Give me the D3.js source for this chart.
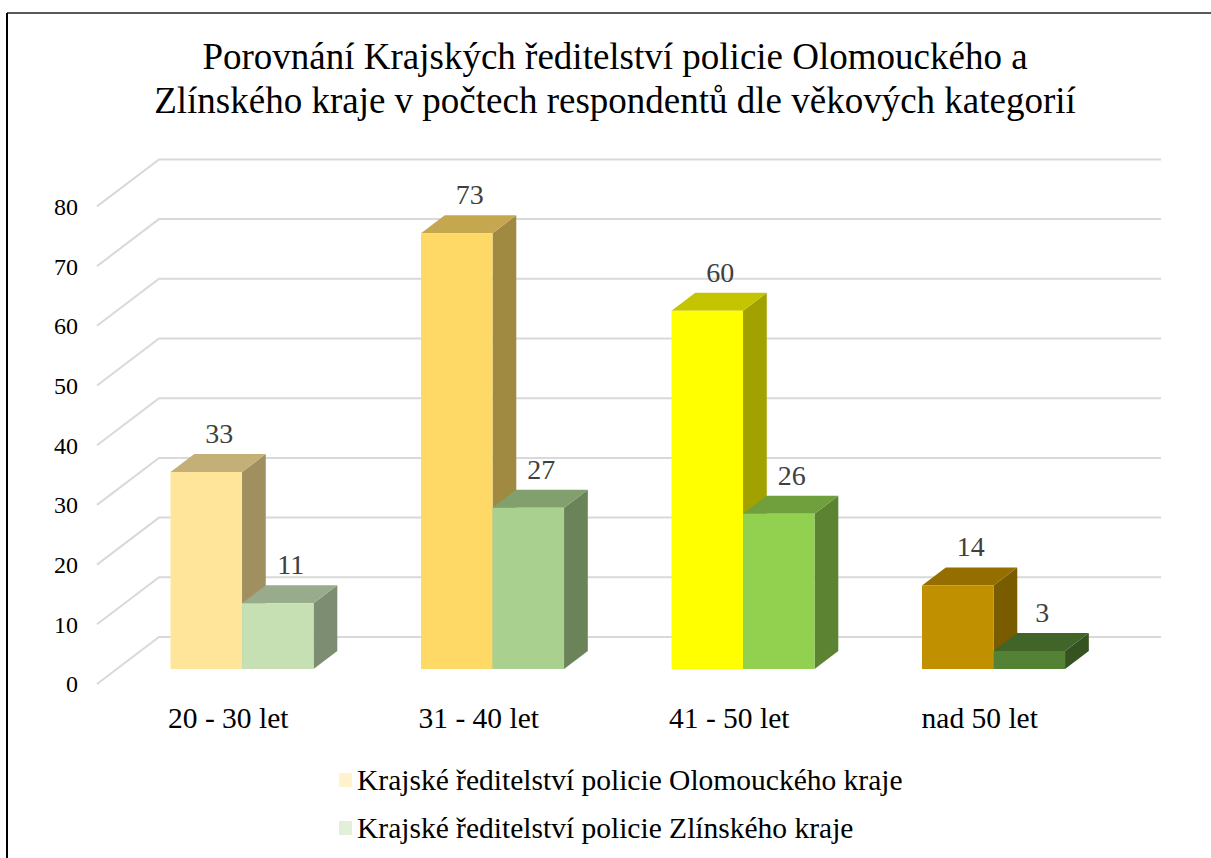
<!DOCTYPE html>
<html><head><meta charset="utf-8">
<script src="https://cdn.jsdelivr.net/npm/d3@7"></script>
<style>html,body{margin:0;padding:0;background:#fff;}svg{display:block;}</style>
</head><body>
<script>
const categories = ["20 - 30 let", "31 - 40 let", "41 - 50 let", "nad 50 let"];
const seriesNames = ["Krajské ředitelství policie Olomouckého kraje", "Krajské ředitelství policie Zlínského kraje"];
const olomoucValues = [33, 73, 60, 14];
const zlinValues = [11, 27, 26, 3];
const olomoucColors = ["#FEE599", "#FED966", "#FFFF00", "#C09000"];
const zlinColors = ["#C6E0B4", "#A9D08E", "#92D050", "#548235"];
const legendColors = ["#FFF2CC", "#E2EFDA"];
const yTicks = [0, 10, 20, 30, 40, 50, 60, 70, 80];
const titleLines = ["Porovnání Krajských ředitelství policie Olomouckého a", "Zlínského kraje v počtech respondentů dle věkových kategorií"];

const W = 1211, H = 858;
const FONT = "'Liberation Serif', 'Times New Roman', serif";
const svg = d3.select("body").append("svg").attr("width", W).attr("height", H);

// border
svg.append("line").attr("x1", 7).attr("x2", W).attr("y1", 13).attr("y2", 13).attr("stroke", "#595959").attr("stroke-width", 2);
svg.append("line").attr("x1", 7).attr("x2", 7).attr("y1", 13).attr("y2", H).attr("stroke", "#000").attr("stroke-width", 2);

// title
svg.append("g").selectAll("text").data(titleLines).join("text")
  .attr("x", 615).attr("y", (d, i) => 69 + i * 44)
  .attr("text-anchor", "middle")
  .attr("font-family", FONT)
  .attr("font-size", 37).attr("fill", "#000").text(d => d);

// projection
const DX = 62, DY = 47;
const y = d3.scaleLinear().domain([0, 80]).range([684, 206.4]);
const x = d3.scaleBand().domain(categories).range([97, 1099]).paddingInner(0).paddingOuter(0);
const groupFrac = 0.571;
const xs = d3.scaleBand().domain([0, 1]).range([0, x.bandwidth() * groupFrac]);
const P = (xf, v, d) => [xf + d * DX, y(v) - d * DY];
const D0 = 0.319, D1 = 0.702;

// gridlines
const grid = svg.append("g");
yTicks.forEach(t => {
  const a = P(x.range()[0], t, 0), b = P(x.range()[0], t, 1), c = P(x.range()[1], t, 1);
  grid.append("polyline").attr("points", [a, b, c].map(p => p.join(",")).join(" "))
    .attr("fill", "none").attr("stroke", "#d9d9d9").attr("stroke-width", 2);
});

// y labels
svg.append("g").selectAll("text").data(yTicks).join("text")
  .attr("x", 78).attr("y", d => y(d)).attr("dy", "0.35em")
  .attr("text-anchor", "end")
  .attr("font-family", FONT)
  .attr("font-size", 24).attr("fill", "#000").text(d => d);

function darken(c, k) { const r = d3.rgb(c); return d3.rgb(r.r * k, r.g * k, r.b * k).toString(); }

const bars = svg.append("g");
const labels = [];
categories.forEach((cat, ci) => {
  const groupStart = x(cat) + (x.bandwidth() - x.bandwidth() * groupFrac) / 2;
  [[olomoucValues, olomoucColors], [zlinValues, zlinColors]].forEach(([vals, cols], si) => {
    const v = vals[ci], col = cols[ci];
    const x0 = groupStart + xs(si), x1 = x0 + xs.bandwidth();
    const poly = (pts, fill) => bars.append("polygon").attr("points", pts.map(p => p.join(",")).join(" ")).attr("fill", fill);
    poly([P(x1, 0, D0), P(x1, 0, D1), P(x1, v, D1), P(x1, v, D0)], darken(col, 0.63));
    poly([P(x0, v, D0), P(x0, v, D1), P(x1, v, D1), P(x1, v, D0)], darken(col, 0.77));
    poly([P(x0, 0, D0), P(x1, 0, D0), P(x1, v, D0), P(x0, v, D0)], col);
    const top = P((x0 + x1) / 2, v, D1);
    labels.push({ x: (x0 + x1) / 2 + D0 * DX + 13, y: top[1] - 21, v });
  });
});

svg.append("g").selectAll("text").data(labels).join("text")
  .attr("x", d => d.x).attr("y", d => d.y).attr("dy", "0.35em")
  .attr("text-anchor", "middle")
  .attr("font-family", FONT)
  .attr("font-size", 28).attr("fill", "#404040").text(d => d.v);

// category labels
svg.append("g").selectAll("text").data(categories).join("text")
  .attr("x", d => x(d) + x.bandwidth() / 2 + 6).attr("y", 718).attr("dy", "0.35em")
  .attr("text-anchor", "middle")
  .attr("font-family", FONT)
  .attr("font-size", 29.5).attr("fill", "#000").text(d => d);

// legend
const leg = svg.append("g");
seriesNames.forEach((name, i) => {
  const cy = 780 + i * 48;
  leg.append("rect").attr("x", 339).attr("y", cy - 7).attr("width", 13).attr("height", 14).attr("fill", legendColors[i]);
  leg.append("text").attr("x", 357).attr("y", cy).attr("dy", "0.35em")
    .attr("font-family", FONT)
    .attr("font-size", 29.5).attr("fill", "#000").text(name);
});
</script>
</body></html>
